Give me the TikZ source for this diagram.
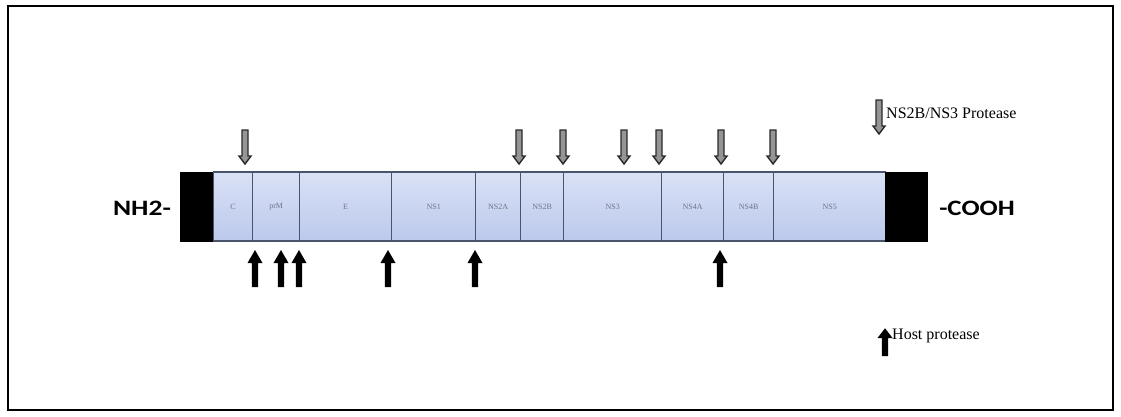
\documentclass[tikz,border=0pt]{standalone}
\usepackage{fontspec}
\setmainfont{Liberation Serif}
\newfontfamily\carl{Carlito}
\definecolor{segline}{HTML}{4A546A}
\definecolor{segtop}{HTML}{D9E1F6}
\definecolor{segbot}{HTML}{BCC9EC}
\definecolor{labgray}{HTML}{6E7488}
\definecolor{arrline}{HTML}{2A2A2A}
\definecolor{arrfill}{HTML}{959595}
\begin{document}
\begin{tikzpicture}[x=1pt,y=-1pt,
 seg/.style={draw=segline, line width=1.3pt, top color=segtop, bottom color=segbot, minimum height=69pt, inner sep=0pt, anchor=west, font=\fontsize{8}{9}\selectfont, text=labgray},
 endbox/.style={draw=black, fill=black, minimum height=69pt, inner sep=0pt, anchor=west},
 termlab/.style={font=\carl\bfseries\fontsize{22}{24}\selectfont, inner sep=0pt},
 leglab/.style={font=\fontsize{16}{18}\selectfont, anchor=west, inner sep=0pt},
 hostar/.pic={\fill[black] (-3.2,0) -- (-3.2,-24) -- (-7.5,-24) -- (0,-37) -- (7.5,-24) -- (3.2,-24) -- (3.2,0) -- cycle;},
 nsar/.pic={\draw[draw=arrline, fill=arrfill, line width=1.4pt, line join=miter] (-3,0) -- (-3,26) -- (-6,26) -- (0,34) -- (6,26) -- (3,26) -- (3,0) -- cycle;}
]
\useasboundingbox (0,0) rectangle (1121,416);
\draw[line width=2.5pt] (8,6) rectangle (1113,410);
% polyprotein
\node[endbox, minimum width=33pt] (lend) at (180,206.5) {};
\node[seg, minimum width=39pt] (c) at (213,206.5) {C};
\node[seg, minimum width=47pt] (prm) at (252,206.5) {prM};
\node[seg, minimum width=92pt] (e) at (299,206.5) {E};
\node[seg, minimum width=84pt] (ns1) at (391,206.5) {NS1};
\node[seg, minimum width=45pt] (ns2a) at (475,206.5) {NS2A};
\node[seg, minimum width=43pt] (ns2b) at (520,206.5) {NS2B};
\node[seg, minimum width=98pt] (ns3) at (563,206.5) {NS3};
\node[seg, minimum width=62pt] (ns4a) at (661,206.5) {NS4A};
\node[seg, minimum width=50pt] (ns4b) at (723,206.5) {NS4B};
\node[seg, minimum width=112pt] (ns5) at (773,206.5) {NS5};
\node[endbox, minimum width=42pt] (rend) at (885,206.5) {};
\node[termlab] (nh2) at (142,208) {\scalebox{1.25}[1]{NH2-}};
\node[termlab] (cooh) at (977,208) {\scalebox{1.22}[1]{-COOH}};
% NS2B/NS3 protease sites
\foreach \x in {245,519,563,624,659,721,773} \pic at (\x,130) {nsar};
% host protease sites
\foreach \x in {255,281,299,388,475,720} \pic at (\x,287) {hostar};
% legend
\pic at (879,100) {nsar};
\node[leglab] (lns) at (886,113) {NS2B/NS3 Protease};
\pic[yscale=0.75] at (885,356) {hostar};
\node[leglab] (lhost) at (892,336) {Host protease};
\end{tikzpicture}
\end{document}
